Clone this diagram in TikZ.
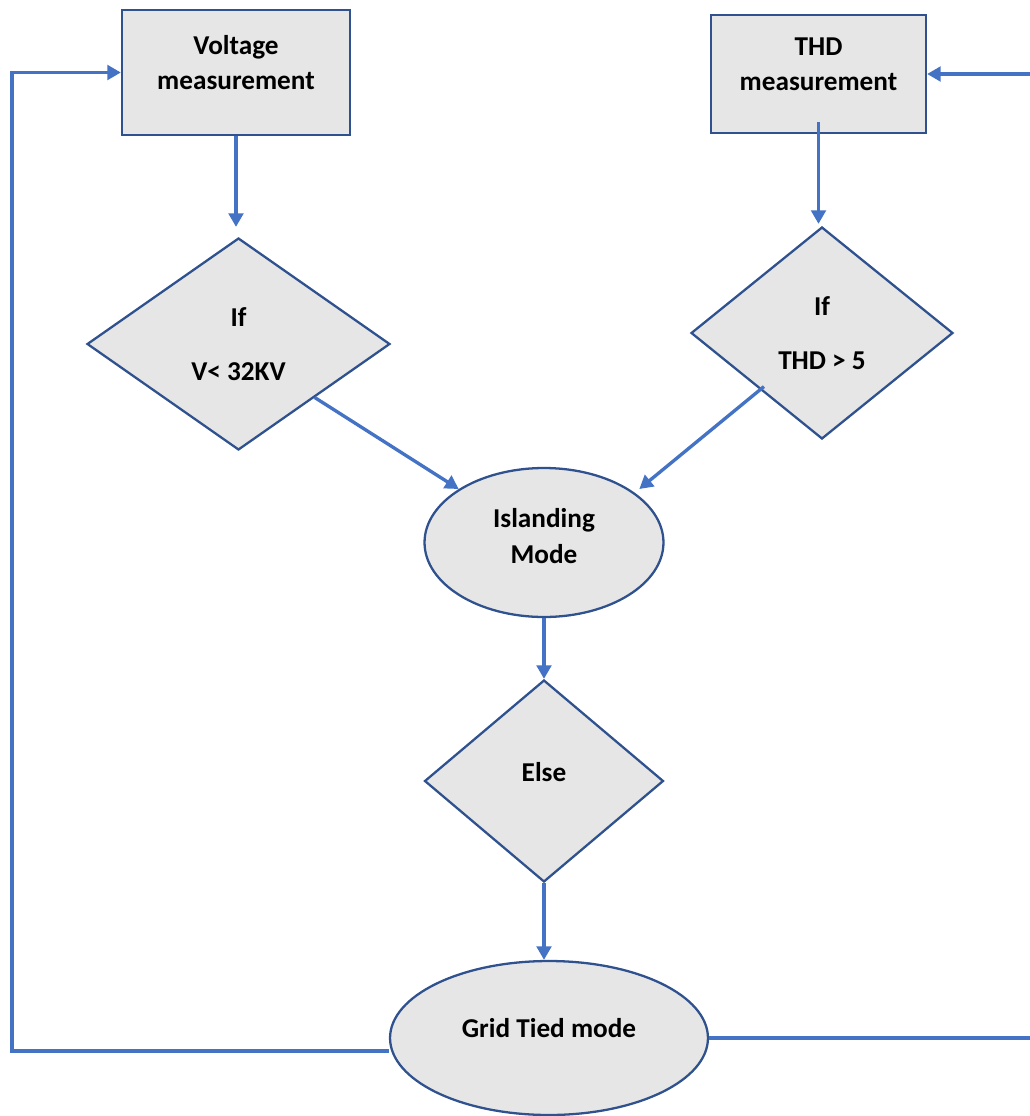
\documentclass[tikz,border=0pt]{standalone}
\usepackage{fontspec}
\setmainfont{Carlito}
\usepackage{tikz}
\usetikzlibrary{arrows.meta,shapes.geometric}
\definecolor{edge}{HTML}{2F528F}
\definecolor{flow}{HTML}{4472C4}
\definecolor{shade}{HTML}{E6E6E6}
\tikzset{box/.style={draw=edge,line width=1.3pt,fill=shade,align=center,
  font=\fontsize{15.5}{20}\selectfont\bfseries,inner sep=0pt},
  measure/.style={box,rectangle},
  decision/.style={box,diamond},
  mode/.style={box,ellipse},
  lift/.style={text depth=#1},
  arrow/.style={-{Triangle[length=0.27cm,width=0.29cm]},line width=1.9pt,draw=flow}}

\begin{document}
\begin{tikzpicture}[x=0.02cm,y=-0.02cm]
\useasboundingbox (0,0) rectangle (1029,1116);
\node[measure,minimum width=4.56cm,minimum height=2.5cm,lift=11.5pt] (volt) at (236,72.5)
{Voltage\\measurement};
\node[measure,minimum width=4.3cm,minimum height=2.36cm,lift=11pt] (thd) at (818.5,74)
{THD\\measurement};
\node[decision,minimum width=6.06cm,minimum height=4.24cm] (condv) at (238.5,344)
{If\\[11pt]V< 32KV};
\node[decision,minimum width=5.24cm,minimum height=4.24cm] (condthd) at (822,333)
{If\\[11pt]THD > 5};
\node[mode,minimum width=4.78cm,minimum height=2.98cm,lift=7.5pt] (island) at (544,542.5)
{Islanding\\Mode};
\node[decision,minimum width=4.78cm,minimum height=4.04cm,lift=10pt] (else) at (544,781)
{Else};
\node[mode,minimum width=6.36cm,minimum height=3.08cm,lift=11.5pt] (grid) at (549,1038)
{Grid Tied mode};
\coordinate (loopL) at (12,72.5);
\coordinate (loopR) at (1032,74);
\draw[arrow,shorten >=0.2cm] (volt.south) -- (volt.south |- condv.north);
\draw[arrow,shorten >=0.04cm] ([yshift=0.24cm]thd.south) -- (thd.south |- condthd.north);
\draw[arrow] (condv.south east) -- (island.north west);
\draw[arrow] ([xshift=0.16cm]condthd.south west) -- ([xshift=0.2cm]island.north east);
\draw[arrow] (island.south) -- (else.north);
\draw[arrow] (else.south) -- (else.south |- grid.north);
\draw[arrow] ([yshift=-0.26cm]grid.west) -| (loopL) -- (volt.west);
\draw[arrow] (grid.east) -| (loopR) -- (thd.east);
\end{tikzpicture}
\end{document}
